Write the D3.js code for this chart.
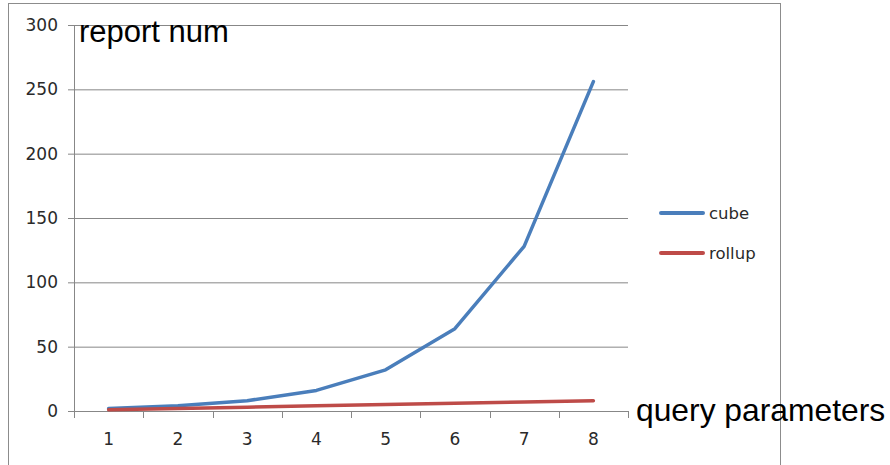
<!DOCTYPE html>
<html>
<head>
<meta charset="utf-8">
<script src="https://cdn.jsdelivr.net/npm/d3@7"></script>
<style>
  html, body { margin: 0; padding: 0; background: #fff; }
  svg { display: block; }
</style>
</head>
<body>
<svg id="chart" width="890" height="465"></svg>
<script>
// Number of reports generated per count of query parameters
const params = [1, 2, 3, 4, 5, 6, 7, 8];
const cube = [2, 4, 8, 16, 32, 64, 128, 256];
const rollup = [1, 2, 3, 4, 5, 6, 7, 8];
const yTicks = [0, 50, 100, 150, 200, 250, 300];
const seriesNames = ["cube", "rollup"];
const seriesColors = ["#4a7ebb", "#be4b48"];

const svg = d3.select("#chart");
const plot = { left: 74, right: 628, top: 25, bottom: 411 };
const gridColor = "#878787";
const labelFont = "'DejaVu Sans', 'Noto Sans', sans-serif";
const labelColor = "#2a2a2a";

// chart frame
svg.append("rect")
  .attr("x", 8.5).attr("y", 3.5)
  .attr("width", 772).attr("height", 480)
  .attr("fill", "#fff").attr("stroke", "#8c8c8c").attr("stroke-width", 1);

const x = d3.scaleBand().domain(params).range([plot.left, plot.right]);
const y = d3.scaleLinear().domain([0, 300]).range([plot.bottom, plot.top]);

// horizontal gridlines and y axis
const yAxis = d3.axisLeft(y).tickValues(yTicks).tickSize(6).tickPadding(10)
  .tickFormat(d3.format("d"));
const gy = svg.append("g").attr("transform", `translate(${plot.left},0)`).call(yAxis);
gy.select(".domain").attr("stroke", gridColor);
gy.selectAll(".tick line").attr("stroke", gridColor);
gy.selectAll(".tick text").attr("fill", labelColor).attr("font-size", 17)
  .attr("font-family", labelFont);
gy.selectAll(".tick").filter(d => d > 0).append("line")
  .attr("x1", 0).attr("x2", plot.right - plot.left)
  .attr("stroke", gridColor).attr("stroke-width", 1);

// x axis with ticks on category boundaries
const gx = svg.append("g").attr("transform", `translate(0,${plot.bottom})`)
  .call(d3.axisBottom(x).tickSize(0).tickPadding(22));
gx.select(".domain").remove();
gx.selectAll(".tick text").attr("fill", labelColor).attr("font-size", 17)
  .attr("font-family", labelFont);
gx.append("line").attr("x1", plot.left - 6).attr("x2", plot.right)
  .attr("y1", 0.5).attr("y2", 0.5).attr("stroke", gridColor);
const bounds = params.map(p => x(p)).concat([x(params[params.length - 1]) + x.bandwidth()]);
gx.selectAll("line.bound").data(bounds).join("line").attr("class", "bound")
  .attr("x1", d => Math.round(d) + 0.5).attr("x2", d => Math.round(d) + 0.5)
  .attr("y1", 0).attr("y2", 7).attr("stroke", gridColor);

// series lines
const line = d3.line()
  .x((d, i) => x(params[i]) + x.bandwidth() / 2)
  .y(d => y(d));
[cube, rollup].forEach((vals, k) => {
  svg.append("path").datum(vals)
    .attr("d", line).attr("fill", "none")
    .attr("stroke", seriesColors[k]).attr("stroke-width", 3.5)
    .attr("stroke-linejoin", "round").attr("stroke-linecap", "round");
});

// legend
const legend = svg.append("g");
seriesNames.forEach((name, k) => {
  const ly = 213 + k * 40;
  legend.append("line").attr("x1", 661).attr("x2", 703).attr("y1", ly).attr("y2", ly)
    .attr("stroke", seriesColors[k]).attr("stroke-width", 4).attr("stroke-linecap", "round");
  legend.append("text").attr("x", 709).attr("y", ly + 6)
    .attr("font-size", 16.5).attr("font-family", labelFont).attr("fill", labelColor)
    .text(name);
});

// axis titles
svg.append("text").attr("x", 79).attr("y", 42)
  .attr("font-family", "'Liberation Sans', Arial, sans-serif").attr("font-size", 31)
  .attr("fill", "#000").text("report num");
svg.append("text").attr("x", 636).attr("y", 421)
  .attr("font-family", "'Liberation Sans', Arial, sans-serif").attr("font-size", 31.8)
  .attr("fill", "#000").text("query parameters");
</script>
</body>
</html>
